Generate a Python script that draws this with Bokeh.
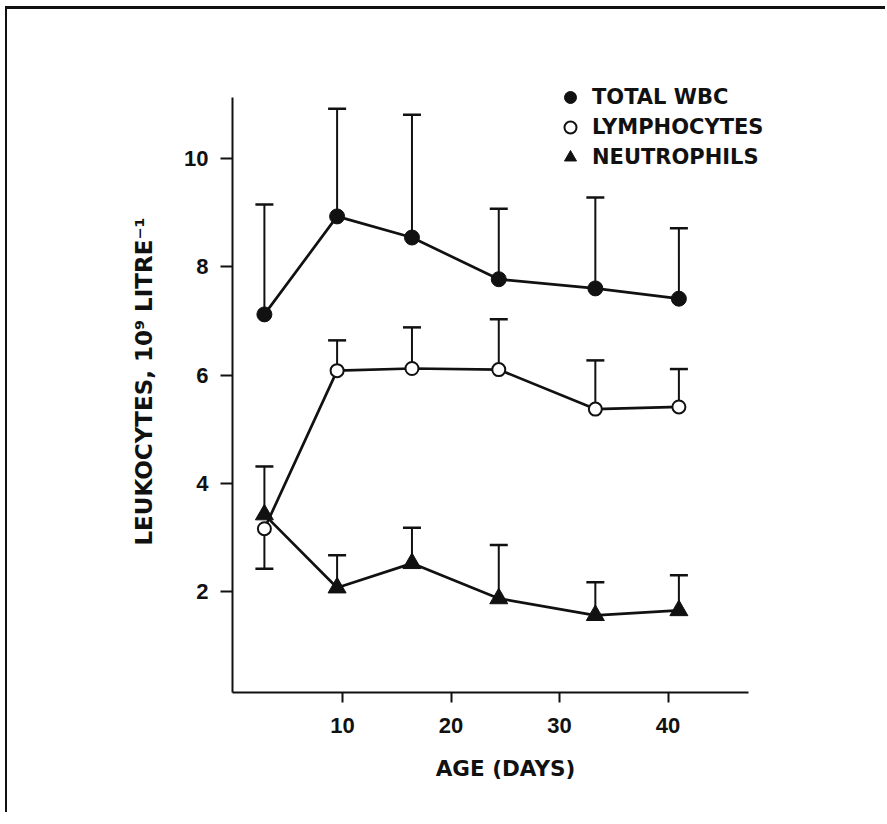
from bokeh.plotting import figure
from bokeh.models import FixedTicker, Legend, LegendItem, Range1d
from bokeh.embed import file_html
from bokeh.resources import INLINE

# ---- data ----
age_days = [2.8, 9.5, 16.4, 24.4, 33.3, 41.0]
total_wbc = [7.12, 8.93, 8.54, 7.77, 7.60, 7.41]
total_wbc_upper = [9.15, 10.92, 10.81, 9.07, 9.28, 8.71]
lymphocytes = [3.16, 6.08, 6.12, 6.10, 5.37, 5.41]
lymphocytes_bar_end = [2.42, 6.64, 6.88, 7.03, 6.27, 6.11]
neutrophils = [3.42, 2.07, 2.52, 1.87, 1.56, 1.65]
neutrophils_upper = [4.31, 2.67, 3.18, 2.86, 2.17, 2.30]
x_ticks = [10, 20, 30, 40]
y_ticks = [2, 4, 6, 8, 10]
series_names = ["TOTAL WBC", "LYMPHOCYTES", "NEUTROPHILS"]
x_label = "AGE (DAYS)"
y_label = "LEUKOCYTES, 10\u2079 LITRE\u207b\u00b9"

# ---- axis extents (data units) ----
x_axis_start, x_axis_end = -0.14, 47.37
y_axis_start, y_axis_end = 0.134, 11.127
x_view_end = 50.18      # room on the right for the key
y_view_end = 11.626     # room above for the key

TICK_FONT = "Liberation Sans"
TEXT_FONT = "DejaVu Sans"
INK = "#111111"

p = figure(
    width=880, height=806,
    output_backend="svg", toolbar_location=None, title=None,
    x_range=Range1d(x_axis_start, x_view_end),
    y_range=Range1d(y_axis_start, y_view_end),
    min_border_left=225, min_border_right=109,
    min_border_top=61, min_border_bottom=123,
    outline_line_color=None,
    background_fill_color="white", border_fill_color="white",
)
# page frame: thick rule along the top and the left edge
p.styles = {
    "margin-left": "7px", "margin-top": "9px",
    "box-shadow": "-2px -3px 0px 0px #111",
}
p.grid.visible = False

for ax in (p.xaxis[0], p.yaxis[0]):
    ax.axis_line_width = 2
    ax.axis_line_color = INK
    ax.major_tick_line_width = 2
    ax.major_tick_line_color = INK
    ax.major_tick_in = 0
    ax.minor_tick_line_color = None
    ax.major_label_text_font = TICK_FONT
    ax.major_label_text_font_style = "bold"
    ax.major_label_text_font_size = "22px"
    ax.major_label_text_color = INK
    ax.axis_label_text_font = TEXT_FONT
    ax.axis_label_text_font_style = "bold"
    ax.axis_label_text_color = INK

p.xaxis.bounds = (x_axis_start, x_axis_end)
p.yaxis.bounds = (y_axis_start, y_axis_end)
p.xaxis.ticker = FixedTicker(ticks=x_ticks)
p.yaxis.ticker = FixedTicker(ticks=y_ticks)
p.xaxis.major_tick_out = 10
p.yaxis.major_tick_out = 12
p.xaxis.major_label_standoff = 15
p.yaxis.major_label_standoff = 12
p.xaxis.axis_label = x_label
p.yaxis.axis_label = y_label
p.xaxis.axis_label_text_font_size = "21.5px"
p.yaxis.axis_label_text_font_size = "23px"
p.xaxis.axis_label_standoff = 20
p.yaxis.axis_label_standoff = 24

# connecting lines
for ys in (total_wbc, lymphocytes, neutrophils):
    p.line(age_days, ys, line_color=INK, line_width=2.7)

# error bars
for ys, ends in ((total_wbc, total_wbc_upper),
                 (lymphocytes, lymphocytes_bar_end),
                 (neutrophils, neutrophils_upper)):
    p.segment(x0=age_days, y0=ys, x1=age_days, y1=ends,
              line_color=INK, line_width=2)
    p.scatter(age_days, ends, marker="dash", size=18,
              line_color=INK, line_width=2.5)

wbc_r = p.scatter(age_days, total_wbc, marker="circle", size=15,
                  fill_color=INK, line_color=INK, line_width=1)
neu_r = p.scatter(age_days, neutrophils, marker="triangle", size=18,
                  fill_color=INK, line_color=INK, line_width=1)
lym_r = p.scatter(age_days, lymphocytes, marker="circle", size=13,
                  fill_color="white", line_color=INK, line_width=2)

legend = Legend(
    items=[LegendItem(label=series_names[0], renderers=[wbc_r]),
           LegendItem(label=series_names[1], renderers=[lym_r]),
           LegendItem(label=series_names[2], renderers=[neu_r])],
    location=(323, 520),
    glyph_width=30, glyph_height=30, label_height=30,
    spacing=0, padding=0, margin=0, label_standoff=7,
    label_text_font=TEXT_FONT, label_text_font_style="bold",
    label_text_font_size="21px", label_text_color=INK,
    border_line_color=None, background_fill_alpha=0,
)
p.add_layout(legend, "center")

open("out.html", "w").write(file_html(p, INLINE))
